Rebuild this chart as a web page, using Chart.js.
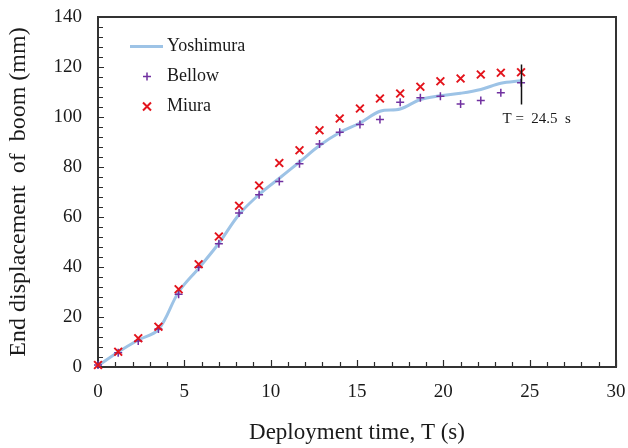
<!DOCTYPE html>
<html>
<head>
<meta charset="utf-8">
<script src="https://cdn.jsdelivr.net/npm/chart.js@4.4.1/dist/chart.umd.min.js"></script>
<style>
  html, body { margin: 0; padding: 0; background: #fff; }
  #wrap { width: 628px; height: 448px; }
</style>
</head>
<body>
<div id="wrap"><canvas id="chart" width="628" height="448"></canvas></div>
<script>
// deployment times (s)
const TIMES = [0, 1.17, 2.33, 3.5, 4.67, 5.83, 7.0, 8.17, 9.33, 10.5, 11.67,
    12.83, 14.0, 15.17, 16.33, 17.5, 18.67, 19.83, 21.0, 22.17, 23.33, 24.5];

// end displacement (mm)
const YOSHIMURA = [0.5, 6, 10.8, 15, 30, 39.5, 49.5, 61, 69, 75.5, 82,
    88.6, 93.8, 97.6, 102.3, 103.2, 107, 108.5, 109.5, 111, 113.5, 114.5];
const BELLOW = [0.8, 5.7, 10.4, 15.2, 29.1, 39.9, 49.3, 61.6, 68.9, 74.2, 81.3,
    89.2, 93.9, 97, 99, 105.9, 107.7, 108.3, 105.2, 106.6, 109.7, 113.7];
const MIURA = [0.8, 6.1, 11.5, 16.1, 31.1, 41.1, 52.2, 64.5, 72.6, 81.6, 86.7,
    94.7, 99.4, 103.4, 107.4, 109.4, 112.1, 114.3, 115.4, 117, 117.7, 117.9];

const X_TICKS = [0, 5, 10, 15, 20, 25, 30];
const Y_TICKS = [0, 20, 40, 60, 80, 100, 120, 140];

// end-of-deployment marker
const END_TIME = 24.5;
const END_RANGE = [105, 121];
const END_LABEL = 'T =  24.5  s';
const END_LABEL_Y = 99;

const SERIF = '"Liberation Serif", "Times New Roman", serif';
const TEXT = '#1a1a1a';
const COLORS = {
    yoshimura: '#9dc3e6',
    bellow: '#7030a0',
    miura: '#e3141c',
};

function pts(values) {
    return TIMES.map((t, i) => ({ x: t, y: values[i] }));
}

// box frame + inward major/minor ticks
const framePlugin = {
    id: 'frame',
    beforeDatasetsDraw(chart) {
        const { ctx, chartArea: a, scales: { x, y } } = chart;
        ctx.save();
        ctx.strokeStyle = '#2a2a2a';
        ctx.lineWidth = 1.2;
        ctx.beginPath();
        for (let v = x.min; v <= x.max; v += 1) {
            const px = Math.round(x.getPixelForValue(v)) + 0.5;
            const len = v % 5 === 0 ? 7 : 5;
            ctx.moveTo(px, a.bottom);
            ctx.lineTo(px, a.bottom - len);
        }
        for (let v = y.min; v <= y.max; v += 4) {
            const py = Math.round(y.getPixelForValue(v)) + 0.5;
            const len = v % 20 === 0 ? 6 : 5;
            ctx.moveTo(a.left, py);
            ctx.lineTo(a.left + len, py);
        }
        ctx.stroke();
        ctx.lineWidth = 2;
        ctx.strokeStyle = '#333';
        ctx.strokeRect(a.left, a.top, a.right - a.left, a.bottom - a.top);
        ctx.restore();
    }
};

// vertical marker at end of deployment
const markerPlugin = {
    id: 'endMarker',
    afterDatasetsDraw(chart) {
        const { ctx, scales: { x, y } } = chart;
        const px = Math.round(x.getPixelForValue(END_TIME)) + 0.5;
        ctx.save();
        ctx.strokeStyle = '#111';
        ctx.lineWidth = 1.5;
        ctx.beginPath();
        ctx.moveTo(px, y.getPixelForValue(END_RANGE[1]));
        ctx.lineTo(px, y.getPixelForValue(END_RANGE[0]));
        ctx.stroke();
        ctx.fillStyle = TEXT;
        ctx.font = `15px ${SERIF}`;
        ctx.textBaseline = 'middle';
        ctx.textAlign = 'left';
        ctx.fillText(END_LABEL, px - 19, y.getPixelForValue(END_LABEL_Y));
        ctx.restore();
    }
};

// legend inside the plot, top-left
const legendPlugin = {
    id: 'insideLegend',
    afterDraw(chart) {
        const { ctx, chartArea: a } = chart;
        const rows = chart.data.datasets;
        const symX = a.left + 49;
        const textX = a.left + 69;
        ctx.save();
        ctx.font = `18px ${SERIF}`;
        ctx.textBaseline = 'middle';
        ctx.fillStyle = TEXT;
        rows.forEach((ds, i) => {
            const cy = a.top + 29.5 + i * 30;
            ctx.strokeStyle = ds.borderColor;
            ctx.beginPath();
            if (ds.showLine) {
                ctx.lineWidth = ds.borderWidth;
                ctx.moveTo(a.left + 32, cy);
                ctx.lineTo(a.left + 65, cy);
            } else if (ds.pointStyle === 'cross') {
                ctx.lineWidth = ds.pointBorderWidth;
                ctx.moveTo(symX - 4, cy); ctx.lineTo(symX + 4, cy);
                ctx.moveTo(symX, cy - 4); ctx.lineTo(symX, cy + 4);
            } else {
                const r = 4;
                ctx.lineWidth = ds.pointBorderWidth;
                ctx.moveTo(symX - r, cy - r); ctx.lineTo(symX + r, cy + r);
                ctx.moveTo(symX - r, cy + r); ctx.lineTo(symX + r, cy - r);
            }
            ctx.stroke();
            ctx.fillText(ds.label, textX, cy);
        });
        ctx.restore();
    }
};

new Chart(document.getElementById('chart'), {
    type: 'scatter',
    data: {
        datasets: [
            {
                label: 'Yoshimura',
                data: pts(YOSHIMURA),
                showLine: true,
                borderColor: COLORS.yoshimura,
                borderWidth: 3,
                pointRadius: 0,
                tension: 0.35,
                clip: false,
                order: 3,
            },
            {
                label: 'Bellow',
                data: pts(BELLOW),
                pointStyle: 'cross',
                pointRadius: 4,
                borderColor: COLORS.bellow,
                pointBorderColor: COLORS.bellow,
                pointBorderWidth: 1.5,
                clip: false,
                order: 2,
            },
            {
                label: 'Miura',
                data: pts(MIURA),
                pointStyle: 'crossRot',
                pointRadius: 5.5,
                borderColor: COLORS.miura,
                pointBorderColor: COLORS.miura,
                pointBorderWidth: 2,
                clip: false,
                order: 1,
            },
        ],
    },
    options: {
        responsive: false,
        animation: false,
        events: [],
        layout: { padding: { top: 17, right: 12, left: 0, bottom: 0 } },
        plugins: {
            legend: { display: false },
            tooltip: { enabled: false },
        },
        scales: {
            x: {
                type: 'linear',
                min: 0,
                max: 30,
                afterBuildTicks: s => { s.ticks = X_TICKS.map(v => ({ value: v })); },
                afterFit: s => { s.height = 81; s.paddingLeft = 0; s.paddingRight = 0; },
                ticks: { font: { family: SERIF, size: 19 }, color: TEXT, padding: 14, maxRotation: 0 },
                grid: { display: false, drawTicks: false },
                border: { display: false },
                title: {
                    display: true,
                    text: 'Deployment time, T (s)',
                    font: { family: SERIF, size: 23 },
                    color: TEXT,
                    padding: { top: 0, bottom: 1 },
                },
            },
            y: {
                type: 'linear',
                min: 0,
                max: 140,
                afterBuildTicks: s => { s.ticks = Y_TICKS.map(v => ({ value: v })); },
                afterFit: s => { s.width = 98; s.paddingTop = 0; s.paddingBottom = 0; },
                ticks: { font: { family: SERIF, size: 19 }, color: TEXT, padding: 16 },
                grid: { display: false, drawTicks: false },
                border: { display: false },
                title: {
                    display: true,
                    text: 'End displacement  of  boom (mm)',
                    font: { family: SERIF, size: 24 },
                    color: TEXT,
                    padding: { top: 4, bottom: 0 },
                },
            },
        },
    },
    plugins: [framePlugin, markerPlugin, legendPlugin],
});
</script>
</body>
</html>
